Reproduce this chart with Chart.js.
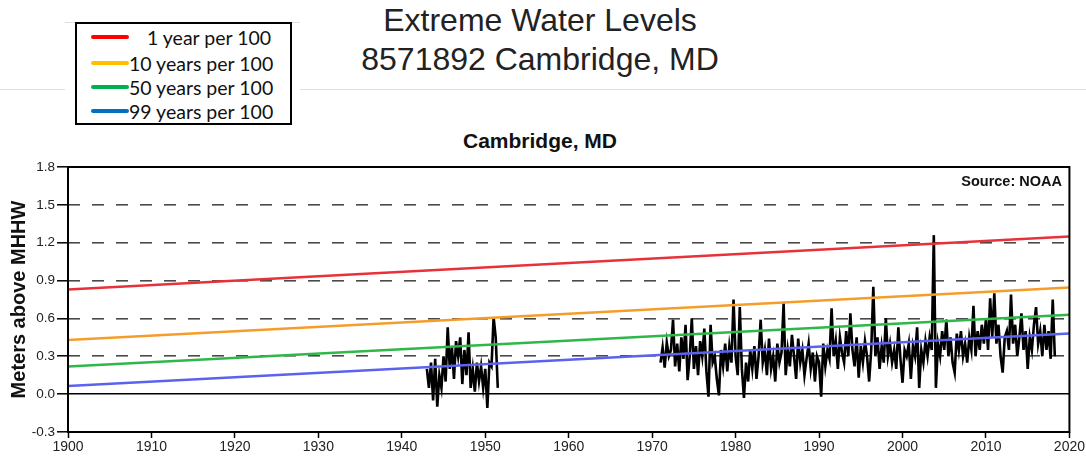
<!DOCTYPE html>
<html>
<head>
<meta charset="utf-8">
<script src="https://cdn.jsdelivr.net/npm/chart.js@4"></script>
<style>
  body { margin: 0; width: 1086px; height: 459px; position: relative; background: #fff; overflow: hidden; font-family: "Liberation Sans", Arial, sans-serif; }
  #chart { position: absolute; left: 0; top: 0; }
  .hline { position: absolute; height: 1px; background: #dcdfe5; }
  #title { position: absolute; left: 240px; width: 600px; top: 1px; text-align: center; font-size: 32px; line-height: 38.5px; color: #222; }
  #subtitle { position: absolute; left: 340px; width: 400px; top: 130px; text-align: center; font-size: 21px; line-height: 21px; font-weight: bold; color: #111; }
  #source { position: absolute; right: 24px; top: 173px; font-size: 14.5px; line-height: 16px; font-weight: bold; color: #111; }
  #legendPad { position: absolute; left: 65px; top: 22px; width: 235px; height: 108px; background: #fff; border-top: 1px solid #dcdfe5; }
  #legend { position: absolute; left: 75px; top: 22px; width: 213px; height: 99px; border: 2px solid #000; background: #fff; font-family: Lato, "Open Sans", sans-serif; font-size: 19.5px; color: #111; }
  .row { position: absolute; left: 0; height: 24px; display: flex; align-items: center; }
  .swatch { width: 38px; height: 4px; border-radius: 2px; margin-left: 14px; }
</style>
</head>
<body>
<div class="hline" style="left:0; top:89px; width:1086px;"></div>
<div id="legendPad"></div>
<div id="legend"></div>
<div id="title">Extreme Water Levels<br>8571892 Cambridge, MD</div>
<div id="subtitle">Cambridge, MD</div>
<canvas id="chart" width="1086" height="459"></canvas>
<div id="source">Source: NOAA</div>
<script>
// axis ticks
const xTicks = [1900, 1910, 1920, 1930, 1940, 1950, 1960, 1970, 1980, 1990, 2000, 2010, 2020];
const yTicks = [-0.3, 0.0, 0.3, 0.6, 0.9, 1.2, 1.5, 1.8];

// exceedance probability trend lines (1900 -> 2020)
const trendYears = [1900, 2020];
const trend1 = [0.83, 1.25];
const trend10 = [0.43, 0.845];
const trend50 = [0.22, 0.63];
const trend99 = [0.065, 0.48];
const trendLabels = ['1 year per 100', '10 years per 100', '50 years per 100', '99 years per 100'];

// monthly extremes, read roughly 4 per year
const perYear = 4;
const earlyStart = 1943.0;
const earlyLevels = [
    0.20, 0.05, 0.25, -0.05,
    0.28, -0.10, 0.15, 0.05,
    0.30, 0.10, 0.53, 0.20,
    0.38, 0.12, 0.42, 0.30,
    0.45, 0.08, 0.35, 0.15,
    0.49, 0.05, 0.20, 0.02,
    0.25, 0.10, 0.22, 0.05,
    0.20, -0.11, 0.25, 0.22,
    0.61, 0.45, 0.05
];
const lateStart = 1971.0;
const lateLevels = [
    0.25, 0.37, 0.21, 0.41,   // 1971
    0.30, 0.35, 0.59, 0.22,
    0.40, 0.18, 0.45, 0.28,
    0.55, 0.11, 0.30, 0.60,
    0.20, 0.38, 0.15, 0.42,   // 1975
    0.30, 0.52, 0.18, -0.02,
    0.55, 0.25, 0.30, 0.12,
    -0.01, 0.35, 0.22, 0.40,
    0.18, 0.38, 0.25, 0.75,
    0.30, 0.15, 0.69, 0.20,   // 1980
    -0.03, 0.25, 0.10, 0.35,
    0.20, 0.38, 0.12, 0.30,
    0.59, 0.25, 0.35, 0.15,
    0.44, 0.20, 0.30, 0.10,
    0.40, 0.25, 0.33, 0.72,   // 1985
    0.15, 0.35, 0.22, 0.47,
    0.30, 0.12, 0.44, 0.25,
    0.35, 0.15, 0.28, 0.40,
    0.20, 0.33, 0.10, 0.30,
    0.25, -0.02, 0.40, 0.22,  // 1990
    0.35, 0.28, 0.68, 0.30,
    0.42, 0.20, 0.45, 0.33,
    0.25, 0.50, 0.30, 0.64,
    0.35, 0.22, 0.45, 0.13,
    0.38, 0.25, 0.42, 0.30,   // 1995
    0.10, 0.35, 0.85, 0.30,
    0.45, 0.20, 0.38, 0.25,
    0.60, 0.30, 0.40, 0.25,
    0.35, 0.20, 0.53, 0.28,
    0.09, 0.35, 0.30, 0.40,   // 2000
    0.12, 0.38, 0.30, 0.53,
    0.05, 0.35, 0.25, 0.42,
    0.30, 0.45, 0.35, 1.26,
    0.05, 0.40, 0.30, 0.50,
    0.35, 0.59, 0.30, 0.45,   // 2005
    0.25, 0.17, 0.48, 0.35,
    0.50, 0.30, 0.40, 0.25,
    0.45, 0.35, 0.70, 0.30,
    0.50, 0.35, 0.55, 0.40,
    0.60, 0.35, 0.76, 0.45,   // 2010
    0.80, 0.40, 0.55, 0.30,
    0.17, 0.45, 0.50, 0.35,
    0.79, 0.40, 0.55, 0.30,
    0.45, 0.64, 0.35, 0.50,
    0.20, 0.45, 0.35, 0.55,   // 2015
    0.69, 0.40, 0.50, 0.30,
    0.55, 0.35, 0.50, 0.28,
    0.75, 0.30
];

const trendColors = ['#e8323a', '#f59d2a', '#2fb74a', '#5b62ee'];
const legendColors = ['#ff0000', '#ffc000', '#00b050', '#0070c0'];

// legend box (pasted panel in the original)
const legendEl = document.getElementById('legend');
const rowTops = [1, 27, 51, 75];
trendLabels.forEach((label, i) => {
    const row = document.createElement('div');
    row.className = 'row';
    row.style.top = rowTops[i] + 'px';
    row.innerHTML = `<div class="swatch" style="background:${legendColors[i]}"></div>` +
        `<span style="margin-left:${i === 0 ? 18 : 0}px">${label}</span>`;
    legendEl.appendChild(row);
});

const toPoints = (start, levels) => levels.map((v, i) => ({ x: start + i / perYear, y: v }));
const trendPoints = (vals) => trendYears.map((yr, i) => ({ x: yr, y: vals[i] }));

const frame = {
    id: 'frame',
    afterDatasetsDraw(chart) {
        const { ctx, chartArea: a } = chart;
        ctx.save();
        ctx.strokeStyle = '#000';
        ctx.lineWidth = 2;
        ctx.strokeRect(a.left, a.top, a.right - a.left, a.bottom - a.top);
        ctx.restore();
    }
};

const trendSets = [trend1, trend10, trend50, trend99].map((vals, i) => ({
    label: trendLabels[i],
    data: trendPoints(vals),
    borderColor: trendColors[i],
    borderWidth: 2.5,
    pointRadius: 0,
    order: 0
}));

new Chart(document.getElementById('chart'), {
    type: 'line',
    data: {
        datasets: [
            ...trendSets,
            { label: 'early', data: toPoints(earlyStart, earlyLevels), borderColor: '#000', borderWidth: 2.6, pointRadius: 0, tension: 0, order: 1 },
            { label: 'late', data: toPoints(lateStart, lateLevels), borderColor: '#000', borderWidth: 2.6, pointRadius: 0, tension: 0, order: 1 }
        ]
    },
    options: {
        responsive: false,
        animation: false,
        layout: { padding: { top: 167, right: 16, left: 0, bottom: 0 } },
        plugins: { legend: { display: false }, tooltip: { enabled: false } },
        scales: {
            x: {
                type: 'linear',
                min: 1900,
                max: 2020,
                afterBuildTicks: (s) => { s.ticks = xTicks.map(v => ({ value: v })); },
                afterFit: (s) => { s.height = 27; },
                ticks: { color: '#222', font: { size: 14, family: 'Liberation Sans' }, padding: 1, maxRotation: 0, callback: (v) => String(v) },
                grid: { drawOnChartArea: false, drawTicks: true, tickLength: 6, tickColor: '#000', tickWidth: 1.5 },
                border: { display: false }
            },
            y: {
                min: -0.3,
                max: 1.8,
                afterBuildTicks: (s) => { s.ticks = yTicks.map(v => ({ value: v })); },
                afterFit: (s) => { s.width = 68; },
                ticks: { color: '#222', font: { size: 13.5, family: 'Liberation Sans' }, padding: 2, callback: (v) => v.toFixed(1) },
                grid: {
                    color: (c) => (c.tick && c.tick.value === 0 ? '#000' : '#4a4a4a'),
                    lineWidth: 1.6,
                    tickLength: 11,
                    tickColor: '#000',
                    tickWidth: 1.5,
                    tickBorderDash: []
                },
                border: {
                    display: false,
                    dash: (c) => (c.tick && c.tick.value === 0 ? [] : [12, 12])
                },
                title: {
                    display: true,
                    text: 'Meters above MHHW',
                    color: '#111',
                    font: { size: 20, weight: 'bold', family: 'Liberation Sans' },
                    padding: { top: 7, bottom: 0 }
                }
            }
        }
    },
    plugins: [frame]
});
</script>
</body>
</html>
